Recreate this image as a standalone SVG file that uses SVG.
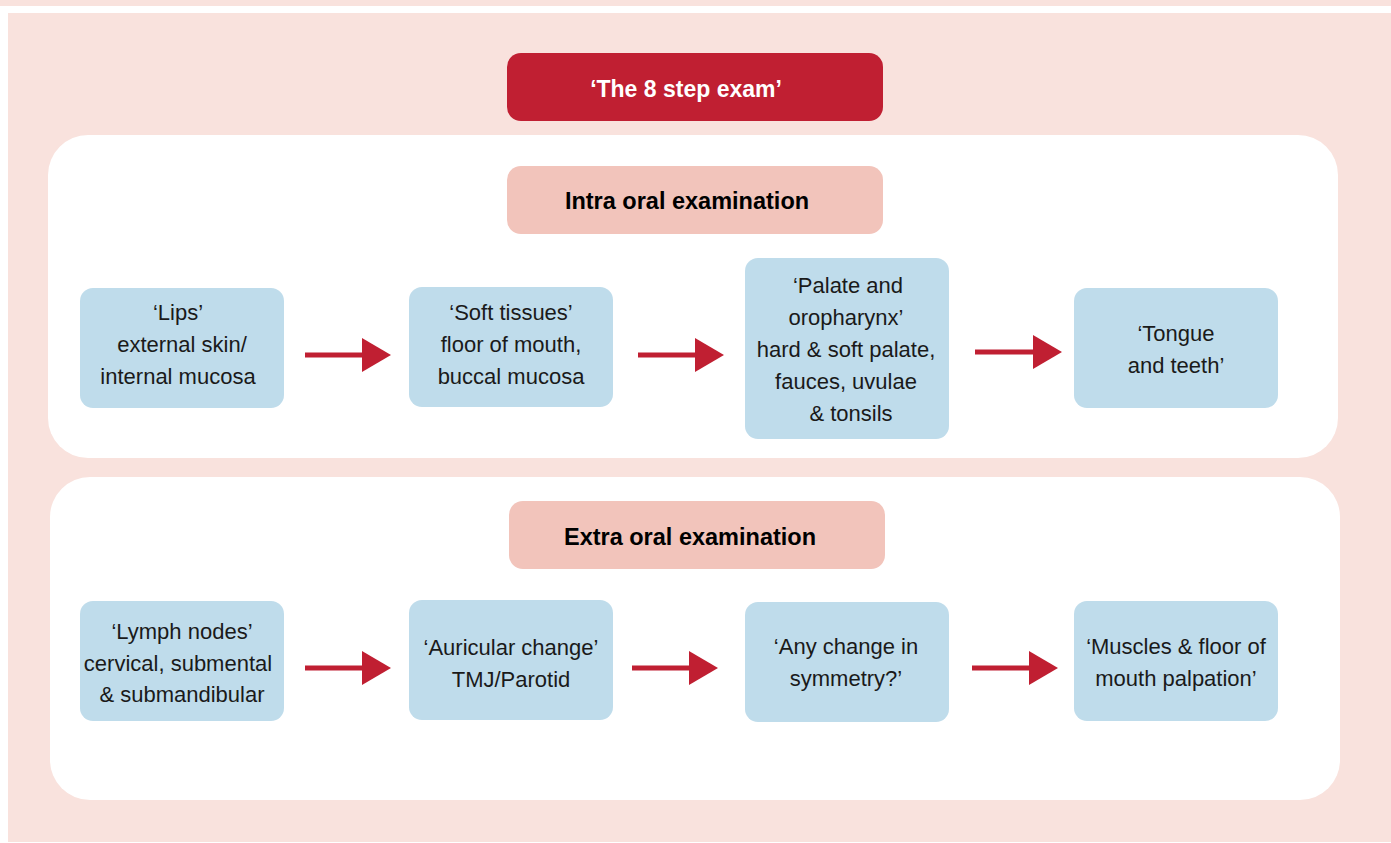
<svg xmlns="http://www.w3.org/2000/svg" width="1391" height="843" viewBox="0 0 1391 843">
<defs>
<style>
.bg{fill:#F9E2DD}
.panel{fill:#FFFFFF}
.title{fill:#C01F32}
.hdr{fill:#F2C4BB}
.box{fill:#BFDCEB}
.t{font-family:"Liberation Sans",Arial,sans-serif;font-size:22px;fill:#1a1a1a;text-anchor:middle}
.h{font-family:"Liberation Sans",Arial,sans-serif;font-size:23.5px;font-weight:bold;fill:#000;text-anchor:middle}
.tw{font-family:"Liberation Sans",Arial,sans-serif;font-size:23px;font-weight:bold;fill:#fff;text-anchor:middle}
.shaft{stroke:#C01F32;stroke-width:5;fill:none}
.head{fill:#C01F32}
</style>
</defs>
<rect x="0" y="0" width="1391" height="843" fill="#FFFFFF"/>
<rect class="bg" x="0" y="0" width="1391" height="6"/>
<rect class="bg" x="8" y="13" width="1383" height="829"/>
<rect class="panel" x="48" y="135" width="1290" height="323" rx="40"/>
<rect class="panel" x="50" y="477" width="1290" height="323" rx="40"/>

<g id="title"><rect class="title" x="507" y="53" width="376" height="68" rx="14"/><text class="tw" x="686" y="97">‘The 8 step exam’</text></g>
<g id="intra"><rect class="hdr" x="507" y="166" width="376" height="68" rx="14"/><text class="h" x="687" y="209">Intra oral examination</text></g>
<g id="extra"><rect class="hdr" x="509" y="501" width="376" height="68" rx="14"/><text class="h" x="690" y="545">Extra oral examination</text></g>

<g id="lips"><rect class="box" x="80" y="288" width="204" height="120" rx="13"/>
<text class="t" x="178" y="320">‘Lips’</text><text class="t" x="182" y="352">external skin/</text><text class="t" x="178" y="384">internal mucosa</text></g>
<g id="soft"><rect class="box" x="409" y="287" width="204" height="120" rx="13"/>
<text class="t" x="511" y="320">‘Soft tissues’</text><text class="t" x="511" y="352">floor of mouth,</text><text class="t" x="511" y="384">buccal mucosa</text></g>
<g id="palate"><rect class="box" x="745" y="258" width="204" height="181" rx="13"/>
<text class="t" x="848" y="293">‘Palate and</text><text class="t" x="846" y="325">oropharynx’</text><text class="t" x="846" y="357">hard &amp; soft palate,</text><text class="t" x="846" y="389">fauces, uvulae</text><text class="t" x="851" y="421">&amp; tonsils</text></g>
<g id="tongue"><rect class="box" x="1074" y="288" width="204" height="120" rx="13"/>
<text class="t" x="1176" y="341">‘Tongue</text><text class="t" x="1176" y="373">and teeth’</text></g>

<g id="lymph"><rect class="box" x="80" y="601" width="204" height="120" rx="13"/>
<text class="t" x="182" y="639">‘Lymph nodes’</text><text class="t" x="178" y="671">cervical, submental</text><text class="t" x="182" y="702">&amp; submandibular</text></g>
<g id="auricular"><rect class="box" x="409" y="600" width="204" height="120" rx="13"/>
<text class="t" x="511" y="655">‘Auricular change’</text><text class="t" x="511" y="687">TMJ/Parotid</text></g>
<g id="symmetry"><rect class="box" x="745" y="602" width="204" height="120" rx="13"/>
<text class="t" x="846" y="654">‘Any change in</text><text class="t" x="846" y="686">symmetry?’</text></g>
<g id="muscles"><rect class="box" x="1074" y="601" width="204" height="120" rx="13"/>
<text class="t" x="1176" y="654">‘Muscles &amp; floor of</text><text class="t" x="1176" y="686">mouth palpation’</text></g>

<g id="connectors">
<line class="shaft" x1="305" y1="355" x2="364" y2="355"/><polygon class="head" points="362,338 391,355 362,372"/>
<line class="shaft" x1="638" y1="355" x2="697" y2="355"/><polygon class="head" points="695,338 724,355 695,372"/>
<line class="shaft" x1="975" y1="352" x2="1035" y2="352"/><polygon class="head" points="1033,335 1062,352 1033,369"/>
<line class="shaft" x1="305" y1="668" x2="364" y2="668"/><polygon class="head" points="362,651 391,668 362,685"/>
<line class="shaft" x1="632" y1="668" x2="691" y2="668"/><polygon class="head" points="689,651 718,668 689,685"/>
<line class="shaft" x1="972" y1="668" x2="1031" y2="668"/><polygon class="head" points="1029,651 1058,668 1029,685"/>
</g>
</svg>
